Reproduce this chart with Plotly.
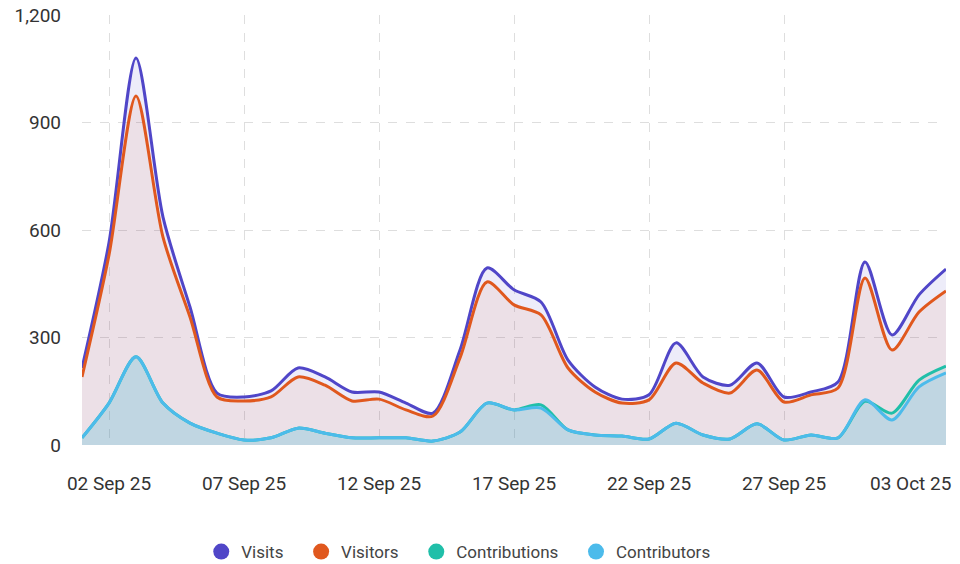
import pandas as pd
import plotly.graph_objects as go

dates = pd.date_range("2025-09-01", "2025-10-03", freq="D")

visits = [215, 565, 1080, 636, 385, 145, 134, 151, 215, 190, 148, 148, 117, 89, 265, 494,
          433, 399, 237, 162, 128, 140, 285, 190, 167, 229, 134, 148, 176, 511, 307, 419, 491]
visitors = [190, 530, 974, 580, 357, 134, 123, 134, 190, 167, 123, 128, 98, 81, 243, 455,
            391, 363, 215, 148, 117, 126, 229, 173, 145, 209, 120, 140, 159, 466, 265, 371, 430]
contributions = [20, 117, 246, 117, 61, 33, 14, 20, 47, 33, 20, 20, 20, 11, 36, 117,
                 98, 112, 42, 28, 25, 17, 61, 28, 17, 59, 14, 28, 20, 122, 89, 181, 220]
contributors = [20, 117, 246, 117, 61, 33, 14, 20, 47, 33, 20, 20, 20, 11, 36, 117,
                98, 103, 42, 28, 25, 17, 61, 28, 17, 59, 14, 28, 20, 126, 70, 162, 201]

tick_dates = ["2025-09-01", "2025-09-02", "2025-09-07", "2025-09-12", "2025-09-17",
              "2025-09-22", "2025-09-27", "2025-10-03"]
tick_text = ["", "02 Sep 25", "07 Sep 25", "12 Sep 25", "17 Sep 25",
             "22 Sep 25", "27 Sep 25", ""]
last_label = "03 Oct 25"

series = [
    ("Visits", visits, "#5046c8", "rgba(80,70,200,0.10)"),
    ("Visitors", visitors, "#e0581e", "rgba(224,88,30,0.08)"),
    ("Contributions", contributions, "#20bfa9", "rgba(32,191,169,0.10)"),
    ("Contributors", contributors, "#4cbbeb", "rgba(76,187,235,0.16)"),
]

fig = go.Figure()
for name, vals, color, fillc in series:
    fig.add_trace(go.Scatter(
        x=dates, y=vals, name=name, mode="lines",
        line=dict(color=color, width=3, shape="spline", smoothing=0.8),
        fill="tozeroy", fillcolor=fillc, showlegend=False, hoverinfo="skip",
    ))
pad = "\u00a0\u00a0\u00a0"
for name, vals, color, fillc in series:
    fig.add_trace(go.Scatter(
        x=[None], y=[None], name=name + pad, mode="markers",
        marker=dict(color=color, size=17, symbol="circle"), showlegend=True,
    ))

fig.add_annotation(
    x=dates[-1], y=0, xref="x", yref="y", text=last_label, showarrow=False,
    xanchor="right", yanchor="top", xshift=7, yshift=-25,
    font=dict(family="Roboto", size=19, color="#333333"),
)

fig.update_layout(
    width=960, height=582,
    margin=dict(l=82, r=14, t=15, b=123),
    paper_bgcolor="white", plot_bgcolor="white",
    font=dict(family="Roboto", size=19, color="#333333"),
    legend=dict(orientation="h", x=0.443, xanchor="center", y=-0.249, yanchor="middle",
                font=dict(family="Roboto", size=17, color="#444444"),
                itemsizing="trace", traceorder="normal"),
    xaxis=dict(
        range=[dates[0], dates[-1]], tickmode="array", tickvals=tick_dates, ticktext=tick_text,
        showgrid=True, gridcolor="#dedede", griddash="dash", gridwidth=1,
        zeroline=False, showline=False, ticks="", ticklabelstandoff=25, automargin=False,
        tickfont=dict(family="Roboto", size=19, color="#333333"),
    ),
    yaxis=dict(
        range=[0, 1200], tickvals=[0, 300, 600, 900, 1200], tickformat=",",
        showgrid=True, gridcolor="#dedede", griddash="dash", gridwidth=1,
        zeroline=False, showline=False, ticks="", ticklabelstandoff=20, automargin=False,
        tickfont=dict(family="Roboto", size=19, color="#333333"),
    ),
)

# remove the default 8px page margin so the figure starts at the window's corner
fig.write_html("out.html", config={"displayModeBar": False},
               post_script="document.body.style.margin='0';")
